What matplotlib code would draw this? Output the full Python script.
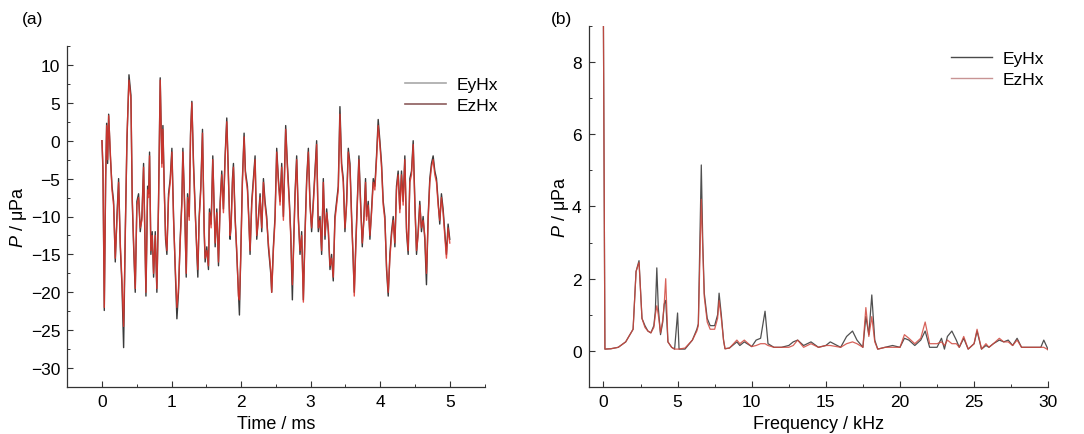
import matplotlib
matplotlib.use('Agg')
import matplotlib.pyplot as plt
from matplotlib.lines import Line2D
from matplotlib.ticker import MultipleLocator

plt.rcParams.update({
    'font.family': ['Liberation Sans', 'DejaVu Sans'],
    'font.size': 12,
    'mathtext.fontset': 'custom',
    'mathtext.it': 'Liberation Sans:italic',
    'mathtext.rm': 'Liberation Sans',
})

# ---------------- (a) time signal ----------------
time_ms = [
    0.000, 0.014, 0.033, 0.053, 0.067, 0.081, 0.096, 0.120, 0.144, 0.167,
    0.191, 0.215, 0.239, 0.263, 0.287, 0.311, 0.335, 0.359, 0.388, 0.416,
    0.435, 0.455, 0.478, 0.502, 0.526, 0.550, 0.574, 0.598, 0.632, 0.656,
    0.670, 0.684, 0.703, 0.722, 0.742, 0.766, 0.789, 0.813, 0.837, 0.861,
    0.876, 0.895, 0.914, 0.933, 0.957, 0.981, 1.005, 1.029, 1.053, 1.077,
    1.100, 1.124, 1.148, 1.163, 1.187, 1.211, 1.230, 1.254, 1.273, 1.292,
    1.316, 1.340, 1.364, 1.378, 1.397, 1.421, 1.445, 1.469, 1.483, 1.507,
    1.531, 1.545, 1.569, 1.593, 1.627, 1.651, 1.675, 1.699, 1.722, 1.746,
    1.770, 1.794, 1.813, 1.842, 1.856, 1.876, 1.890, 1.914, 1.938, 1.962,
    1.976, 1.995, 2.019, 2.043, 2.062, 2.091, 2.110, 2.129, 2.153, 2.177,
    2.201, 2.225, 2.249, 2.273, 2.297, 2.321, 2.344, 2.368, 2.392, 2.426,
    2.440, 2.464, 2.488, 2.512, 2.536, 2.560, 2.584, 2.608, 2.641, 2.665,
    2.694, 2.713, 2.737, 2.751, 2.775, 2.799, 2.823, 2.847, 2.871, 2.895,
    2.919, 2.943, 2.967, 2.990, 3.014, 3.038, 3.062, 3.086, 3.110, 3.134,
    3.158, 3.182, 3.206, 3.230, 3.254, 3.278, 3.301, 3.325, 3.349, 3.373,
    3.397, 3.421, 3.445, 3.469, 3.493, 3.517, 3.541, 3.565, 3.589, 3.612,
    3.627, 3.651, 3.670, 3.694, 3.718, 3.742, 3.766, 3.789, 3.804, 3.828,
    3.852, 3.876, 3.900, 3.923, 3.947, 3.971, 3.995, 4.019, 4.043, 4.067,
    4.091, 4.115, 4.139, 4.163, 4.187, 4.211, 4.234, 4.258, 4.282, 4.306,
    4.330, 4.354, 4.378, 4.402, 4.426, 4.450, 4.474, 4.498, 4.522, 4.545,
    4.569, 4.593, 4.617, 4.641, 4.665, 4.689, 4.713, 4.737, 4.761, 4.785,
    4.809, 4.833, 4.856, 4.880, 4.904, 4.928, 4.952, 4.976, 5.000,
]

p_eyhx = [
    0.0, -4.0, -22.4, -5.0, 2.3, -3.0, 3.5, -2.0, -6.0, -8.0,
    -16.0, -10.0, -5.0, -14.0, -19.0, -27.3, -12.0, 0.0, 8.7, 6.0,
    -8.0, -14.0, -20.0, -8.0, -7.0, -12.0, -10.0, -3.0, -20.5, -6.0,
    -7.0, -1.5, -15.0, -12.0, -18.0, -12.0, -20.0, -8.0, 8.3, -3.0,
    2.0, -6.0, -13.0, -15.0, -7.0, -5.0, -1.0, -10.0, -17.0, -23.5,
    -20.0, -13.0, -8.0, -1.0, -8.0, -18.0, -7.0, -10.0, 1.0, 5.2,
    -3.0, -9.0, -15.0, -18.0, -10.0, -6.0, 1.5, -12.0, -16.0, -14.0,
    -17.0, -9.0, -11.0, -2.0, -14.0, -9.0, -16.5, -8.0, -4.0, -9.0,
    -2.0, 3.0, -3.0, -13.0, -11.0, -5.0, -3.0, -10.0, -15.0, -20.0,
    -23.0, -15.0, -5.0, 1.0, -4.0, -6.0, -10.0, -15.0, -8.0, -5.0,
    -2.0, -13.0, -10.0, -7.0, -12.0, -5.0, -8.0, -10.0, -14.0, -17.5,
    -20.0, -14.0, -10.0, -1.0, -5.0, -8.0, -3.0, -10.0, 2.0, -3.0,
    -8.0, -12.0, -21.0, -15.0, -7.0, -2.0, -10.0, -15.0, -12.0, -21.0,
    -12.0, -5.0, -1.0, -8.0, -12.0, -8.0, -4.0, 0.0, -12.0, -10.0,
    -15.0, -5.0, -13.0, -9.0, -12.0, -17.0, -15.0, -18.5, -10.0, -8.0,
    -6.0, 4.5, -3.0, -5.0, -12.0, -8.0, -1.0, -3.0, -10.0, -16.0,
    -20.0, -13.0, -8.0, -2.0, -8.0, -14.0, -10.0, -5.0, -10.0, -8.0,
    -13.0, -9.0, -5.0, -6.0, -2.0, 2.8, 0.0, -3.0, -8.0, -10.0,
    -17.0, -20.5, -15.0, -12.0, -10.0, -14.0, -6.0, -4.0, -9.0, -4.0,
    -8.0, -2.0, -12.0, -15.0, -5.0, -4.0, 0.0, -8.0, -15.0, -12.0,
    -8.0, -12.0, -10.0, -13.0, -19.0, -10.0, -5.0, -3.0, -2.0, -4.0,
    -5.0, -8.0, -11.0, -7.0, -9.0, -12.0, -15.0, -11.0, -13.0,
]

p_ezhx = [
    0.0, -3.5, -22.0, -4.5, 2.0, -2.5, 3.3, -1.5, -6.5, -8.5,
    -15.5, -10.5, -5.5, -13.5, -18.5, -24.5, -12.5, 0.5, 8.0, 5.5,
    -7.5, -13.5, -19.5, -8.5, -7.5, -11.5, -10.5, -3.5, -20.0, -6.5,
    -7.5, -2.0, -14.5, -12.5, -17.5, -12.5, -19.5, -8.5, 8.0, -3.5,
    1.5, -6.5, -12.5, -14.5, -7.5, -5.5, -1.5, -10.5, -16.5, -22.0,
    -19.5, -13.5, -8.5, -1.5, -8.5, -17.5, -7.5, -10.5, 0.5, 5.0,
    -3.5, -9.5, -14.5, -17.0, -10.5, -6.5, 1.0, -11.5, -15.5, -14.5,
    -16.5, -9.5, -11.5, -2.5, -13.5, -9.5, -16.0, -8.5, -4.5, -9.5,
    -2.5, 2.5, -3.5, -12.5, -11.5, -5.5, -3.5, -10.5, -14.5, -20.5,
    -21.0, -15.5, -5.5, 0.5, -4.5, -6.5, -10.5, -14.5, -8.5, -5.5,
    -2.5, -12.5, -10.5, -7.5, -11.5, -5.5, -8.5, -10.5, -13.5, -17.0,
    -20.0, -14.5, -10.5, -1.5, -5.5, -8.5, -3.5, -10.5, 1.5, -3.5,
    -8.5, -12.5, -19.0, -15.5, -7.5, -2.5, -10.5, -14.5, -12.5, -21.3,
    -12.5, -5.5, -1.5, -8.5, -11.5, -8.5, -4.5, -0.5, -11.5, -10.5,
    -14.5, -5.5, -12.5, -9.5, -11.5, -16.5, -15.5, -18.0, -10.5, -8.5,
    -6.5, 3.5, -3.5, -5.5, -11.5, -8.5, -1.5, -3.5, -10.5, -15.5,
    -20.5, -13.5, -8.5, -2.5, -8.5, -13.5, -10.5, -5.5, -10.5, -8.5,
    -12.5, -9.5, -5.5, -6.5, -2.5, 2.0, -0.5, -3.5, -8.5, -10.5,
    -16.5, -20.0, -15.5, -12.5, -10.5, -13.5, -6.5, -4.5, -9.5, -4.5,
    -8.5, -2.5, -11.5, -14.5, -5.5, -4.5, -0.5, -8.5, -14.5, -12.5,
    -8.5, -11.5, -10.5, -12.5, -17.5, -10.5, -5.5, -3.5, -2.5, -4.5,
    -5.5, -8.5, -10.5, -7.5, -9.5, -12.5, -15.5, -11.5, -13.5,
]

# ---------------- (b) spectrum ----------------
freq_khz = [
    0.0, 0.1, 0.5, 1.0, 1.5, 2.0, 2.2, 2.4, 2.6, 2.8,
    3.0, 3.2, 3.4, 3.5, 3.6, 3.7, 3.85, 4.0, 4.1, 4.2,
    4.35, 4.6, 4.8, 5.0, 5.1, 5.5, 6.0, 6.3, 6.4, 6.6,
    6.7, 6.8, 7.0, 7.2, 7.5, 7.7, 7.8, 7.95, 8.1, 8.2,
    8.5, 9.0, 9.2, 9.5, 10.0, 10.3, 10.6, 10.9, 11.1, 11.5,
    12.0, 12.5, 12.8, 13.1, 13.5, 14.0, 14.5, 15.0, 15.3, 16.0,
    16.4, 16.8, 17.1, 17.5, 17.7, 17.9, 18.1, 18.3, 18.5, 19.0,
    19.5, 20.0, 20.3, 20.6, 21.0, 21.4, 21.7, 22.0, 22.5, 22.8,
    23.0, 23.2, 23.5, 23.8, 24.0, 24.3, 24.6, 25.0, 25.2, 25.5,
    25.8, 26.0, 26.3, 26.7, 27.0, 27.3, 27.6, 27.9, 28.2, 28.6,
    29.0, 29.5, 29.7, 30.0,
]

amp_eyhx = [
    9.0, 0.05, 0.06, 0.10, 0.25, 0.60, 2.20, 2.50, 0.90, 0.70,
    0.55, 0.50, 0.70, 1.10, 2.30, 1.20, 0.45, 0.80, 1.30, 1.40,
    0.25, 0.10, 0.05, 1.05, 0.05, 0.05, 0.30, 0.60, 0.75, 5.15,
    3.00, 1.60, 0.90, 0.70, 0.70, 1.00, 1.60, 1.00, 0.30, 0.06,
    0.08, 0.25, 0.15, 0.25, 0.12, 0.30, 0.35, 1.10, 0.20, 0.10,
    0.10, 0.15, 0.25, 0.30, 0.15, 0.25, 0.10, 0.15, 0.25, 0.10,
    0.40, 0.55, 0.30, 0.10, 0.95, 0.45, 1.55, 0.30, 0.05, 0.10,
    0.15, 0.10, 0.35, 0.30, 0.15, 0.30, 0.55, 0.10, 0.10, 0.35,
    0.05, 0.40, 0.55, 0.30, 0.10, 0.35, 0.05, 0.20, 0.55, 0.05,
    0.15, 0.10, 0.20, 0.30, 0.25, 0.30, 0.15, 0.35, 0.10, 0.10,
    0.10, 0.10, 0.30, 0.03,
]

amp_ezhx = [
    9.0, 0.05, 0.06, 0.10, 0.25, 0.60, 2.20, 2.45, 0.90, 0.65,
    0.55, 0.50, 0.65, 1.00, 1.25, 1.00, 0.50, 0.85, 1.30, 2.00,
    0.25, 0.10, 0.05, 0.05, 0.05, 0.08, 0.30, 0.55, 0.70, 4.20,
    2.80, 1.50, 0.80, 0.60, 0.60, 0.90, 1.40, 0.90, 0.30, 0.06,
    0.08, 0.30, 0.20, 0.30, 0.12, 0.15, 0.20, 0.20, 0.15, 0.10,
    0.10, 0.10, 0.15, 0.30, 0.10, 0.20, 0.10, 0.15, 0.15, 0.10,
    0.20, 0.25, 0.20, 0.10, 1.20, 0.40, 0.95, 0.25, 0.05, 0.10,
    0.10, 0.10, 0.45, 0.35, 0.20, 0.35, 0.80, 0.20, 0.20, 0.25,
    0.15, 0.30, 0.20, 0.20, 0.10, 0.40, 0.05, 0.20, 0.60, 0.05,
    0.20, 0.10, 0.20, 0.35, 0.25, 0.25, 0.15, 0.30, 0.10, 0.10,
    0.10, 0.10, 0.10, 0.03,
]

fig = plt.figure(figsize=(10.84, 4.35), dpi=100)
ax1 = fig.add_axes([0.062, 0.108, 0.385, 0.784])
ax2 = fig.add_axes([0.543, 0.108, 0.424, 0.830])


def style_axis(ax):
    for side in ('top', 'right'):
        ax.spines[side].set_visible(False)
    for side in ('left', 'bottom'):
        ax.spines[side].set_color('#333333')
        ax.spines[side].set_linewidth(0.9)
    ax.tick_params(which='major', direction='in', length=4, width=0.8,
                   colors='#333333', labelcolor='black', labelsize=12.5, pad=5)
    ax.tick_params(which='minor', direction='in', length=2, width=0.7,
                   colors='#333333')


# (a)
ax1.plot(time_ms, p_eyhx, color='#3a3a3a', lw=1.0)
ax1.plot(time_ms, p_ezhx, color='#e0352c', lw=1.0, alpha=0.85)
ax1.set_xlim(-0.5, 5.5)
ax1.set_ylim(-32.5, 12.5)
ax1.xaxis.set_major_locator(MultipleLocator(1))
ax1.xaxis.set_minor_locator(MultipleLocator(0.5))
ax1.yaxis.set_major_locator(MultipleLocator(5))
ax1.yaxis.set_minor_locator(MultipleLocator(2.5))
ax1.set_xlabel('Time / ms', fontsize=13, labelpad=4)
ax1.set_ylabel(r'$P$ / μPa', fontsize=13, labelpad=1)
style_axis(ax1)
handles_a = [Line2D([], [], color='#a8a8a8', lw=1.2),
             Line2D([], [], color='#8c5c5c', lw=1.2)]
ax1.legend(handles_a, ['EyHx', 'EzHx'], loc='upper right',
           bbox_to_anchor=(1.07, 0.955), frameon=False, fontsize=12.5,
           handlelength=2.4, handletextpad=0.6, labelspacing=0.35)
fig.text(0.020, 0.955, '(a)', fontsize=12.5, ha='left', va='center')

# (b)
ax2.plot(freq_khz, amp_eyhx, color='#505050', lw=0.9)
ax2.plot(freq_khz, amp_ezhx, color='#d0473d', lw=0.9, alpha=0.85)
ax2.set_xlim(-1, 30)
ax2.set_ylim(-1, 9)
ax2.xaxis.set_major_locator(MultipleLocator(5))
ax2.xaxis.set_minor_locator(MultipleLocator(2.5))
ax2.yaxis.set_major_locator(MultipleLocator(2))
ax2.yaxis.set_minor_locator(MultipleLocator(1))
ax2.set_xlabel('Frequency / kHz', fontsize=13, labelpad=4)
ax2.set_ylabel(r'$P$ / μPa', fontsize=13, labelpad=1)
style_axis(ax2)
handles_b = [Line2D([], [], color='#4a4a4a', lw=1.0),
             Line2D([], [], color='#c89494', lw=1.0)]
ax2.legend(handles_b, ['EyHx', 'EzHx'], loc='upper right',
           bbox_to_anchor=(1.025, 0.975), frameon=False, fontsize=12.5,
           handlelength=2.4, handletextpad=0.6, labelspacing=0.35)
fig.text(0.508, 0.955, '(b)', fontsize=12.5, ha='left', va='center')

fig.savefig('out.png', dpi=100)
plt.close(fig)
